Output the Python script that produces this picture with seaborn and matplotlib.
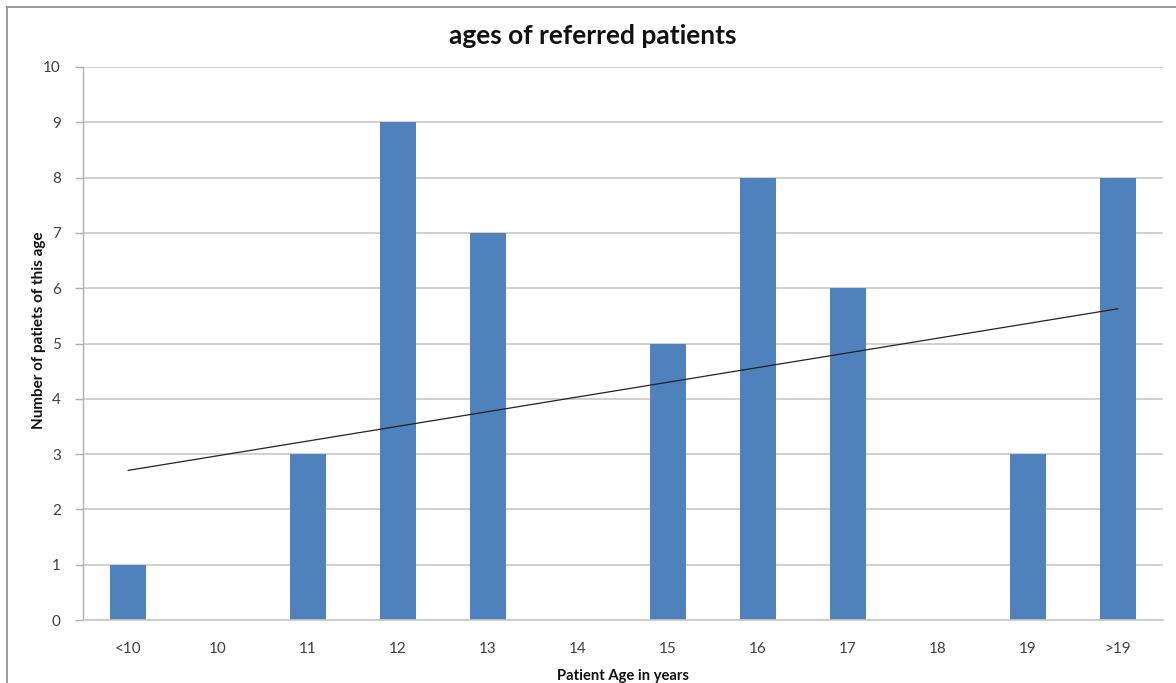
import numpy as np
import pandas as pd
import matplotlib
matplotlib.use("Agg")
import matplotlib.pyplot as plt
from matplotlib.lines import Line2D
import seaborn as sns

# Referral counts per age group
age_groups = ["<10", "10", "11", "12", "13", "14", "15", "16", "17", "18", "19", ">19"]
patient_counts = [1, 0, 3, 9, 7, 0, 5, 8, 6, 0, 3, 8]

df = pd.DataFrame({"age": age_groups, "count": patient_counts})

sns.set_theme(style="white")
plt.rcParams["font.family"] = ["Lato", "DejaVu Sans"]

fig = plt.figure(figsize=(11.76, 6.83), dpi=100)
ax = fig.add_axes([83 / 1176, 1 - 620 / 683, (1163 - 83) / 1176, (620 - 67) / 683])

sns.barplot(data=df, x="age", y="count", color="#4f81bd", saturation=1,
            width=0.4, linewidth=0, ax=ax, zorder=2)

# Linear trend line across the category positions
xs = np.arange(len(patient_counts))
slope, intercept = np.polyfit(xs, patient_counts, 1)
ax.plot(xs, slope * xs + intercept, color="#222222", lw=0.9, zorder=3)

ax.set_ylim(0, 10)
ax.set_xlim(-0.5, len(age_groups) - 0.5)
ax.set_yticks(range(0, 11))
ax.yaxis.grid(True, color="#c8c8c8", lw=1.2, zorder=0)
ax.set_axisbelow(True)

for side in ["top", "right"]:
    ax.spines[side].set_visible(False)
ax.spines["left"].set_color("#b0b0b0")
ax.spines["bottom"].set_color("#c8c8c8")
ax.spines["left"].set_linewidth(1.0)
ax.spines["bottom"].set_linewidth(1.2)

ax.tick_params(axis="y", which="both", left=True, length=6, width=1,
               color="#b0b0b0", labelsize=11, labelcolor="#404040", pad=10)
ax.tick_params(axis="x", bottom=False, labelsize=11, labelcolor="#404040", pad=10)

ax.set_xlabel("Patient Age in years", fontsize=10.6, fontweight="bold",
              color="#111111", labelpad=9)
ax.set_ylabel("Number of patiets of this age", fontsize=11, fontweight="bold",
              color="#111111")
ax.yaxis.set_label_coords(-0.034, 0.524)
fig.text(593 / 1176, 1 - 36 / 683, "ages of referred patients", fontsize=19,
         fontweight="bold", ha="center", va="center", color="#111111")

# Chart frame along the top and left edges
fig.add_artist(Line2D([7 / 1176, 7 / 1176], [0, 1 - 7 / 683],
                      transform=fig.transFigure, color="#8a8a8a", lw=1.2))
fig.add_artist(Line2D([7 / 1176, 1], [1 - 7 / 683, 1 - 7 / 683],
                      transform=fig.transFigure, color="#8a8a8a", lw=1.2))

fig.savefig("out.png", dpi=100)
